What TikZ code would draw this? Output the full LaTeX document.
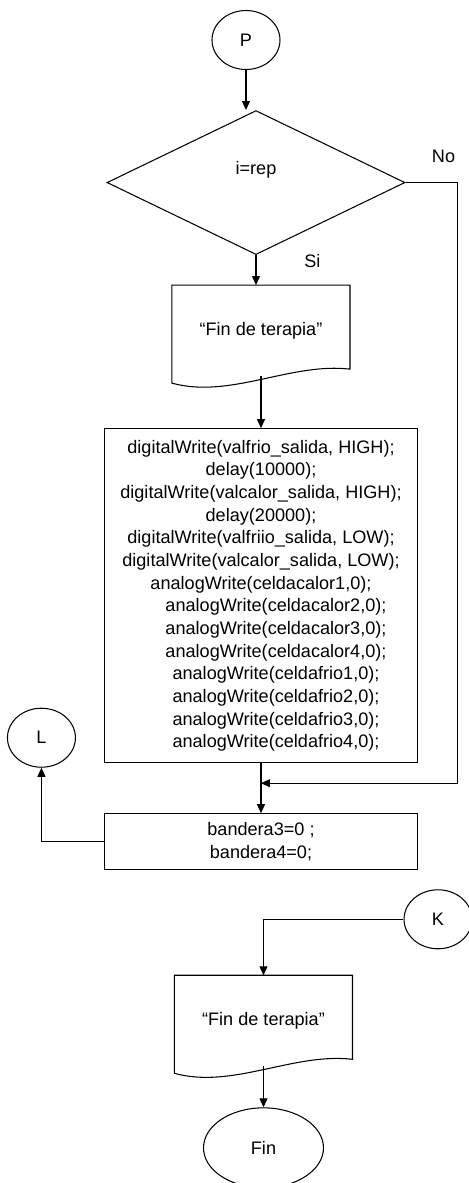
\documentclass[tikz,border=0pt]{standalone}
\usepackage{fontspec}
\setmainfont{Liberation Sans}
\usepackage{tikz}
\usetikzlibrary{shapes.geometric, arrows.meta, positioning, calc}
\tikzstyle{conn} = [ellipse, draw, minimum width=1.36cm, minimum height=1.18cm, inner sep=0pt]
\tikzstyle{decision} = [diamond, draw, minimum width=5.96cm, minimum height=2.88cm, inner sep=0pt]
\tikzstyle{doc} = [rectangle, minimum width=3.54cm, minimum height=1.8cm, align=center]
\tikzstyle{block} = [rectangle, draw, minimum width=6.26cm, align=center]
\tikzstyle{terminal} = [ellipse, draw, minimum width=2.4cm, minimum height=1.6cm]
\tikzstyle{arrow} = [draw, -{Triangle[length=1.8mm, width=1.6mm]}]
\newcommand{\docwave}[1]{\draw (#1.north west) -- (#1.north east) -- ([yshift=1.4mm]#1.south east)
  .. controls ($(#1.south east)+(-1.18,0.28)$) and ($(#1.south west)+(1.16,-0.46)$) .. ([yshift=-1.4mm]#1.south west) -- cycle;}

\begin{document}
\begin{tikzpicture}[node distance=1cm, font=\fontsize{10.3}{12.9}\selectfont, line width=0.6pt]
    \useasboundingbox (-4.92,0.8) rectangle (4.46,-22.86);
    \node (P) [conn] {P};
    \node (cond) [decision, below=0.8cm of P, xshift=0.2cm, text height=3mm, text depth=6.2mm] {i=rep};
    \node (msg1) [doc, below=0.6cm of cond, xshift=0.1cm] {“Fin de terapia”};
    \docwave{msg1}
    \node (apagar) [block, minimum height=6.68cm, below=1.04cm of msg1] {digitalWrite(valfrio\_salida, HIGH);\\
      delay(10000);\\
      digitalWrite(valcalor\_salida, HIGH);\\
      delay(20000);\\
      digitalWrite(valfriio\_salida, LOW);\\
      digitalWrite(valcalor\_salida, LOW);\\
      analogWrite(celdacalor1,0);\\
      \hspace*{6mm}analogWrite(celdacalor2,0);\\
      \hspace*{6mm}analogWrite(celdacalor3,0);\\
      \hspace*{6mm}analogWrite(celdacalor4,0);\\
      \hspace*{6mm}analogWrite(celdafrio1,0);\\
      \hspace*{6mm}analogWrite(celdafrio2,0);\\
      \hspace*{6mm}analogWrite(celdafrio3,0);\\
      \hspace*{6mm}analogWrite(celdafrio4,0);};
    \node (bandera) [block, minimum height=1.12cm, below=1.0cm of apagar] {bandera3=0 ;\\bandera4=0;};
    \node (L) [conn, left=0.56cm of bandera.west, yshift=2.08cm] {L};
    \node (K) [conn, below=0.38cm of bandera.south east, xshift=0.4cm] {K};
    \node (msg2) [doc, below=2.1cm of bandera, xshift=0.05cm] {“Fin de terapia”};
    \docwave{msg2}
    \node (fin) [terminal, below=0.82cm of msg2] {Fin};

    \coordinate (merge) at ($(apagar.south)!0.4!(bandera.north)$);
    \draw[arrow] (P) -- (P |- cond.north);
    \draw[arrow] (cond.south) -- node[pos=0.2, right=0.84cm] {Si} (cond.south |- msg1.north);
    \draw[arrow] (cond.east) -- ++(1.04,0) node[xshift=-0.28cm, yshift=0.52cm] {No} |- (merge);
    \draw[arrow] (msg1.south) -- (apagar.north);
    \draw[arrow] (apagar.south) -- (bandera.north);
    \draw[arrow] (bandera.west) -| (L);
    \draw[arrow] (K.west) -| (msg2.north);
    \draw[arrow] (msg2.south) -- (fin);
\end{tikzpicture}
\end{document}
